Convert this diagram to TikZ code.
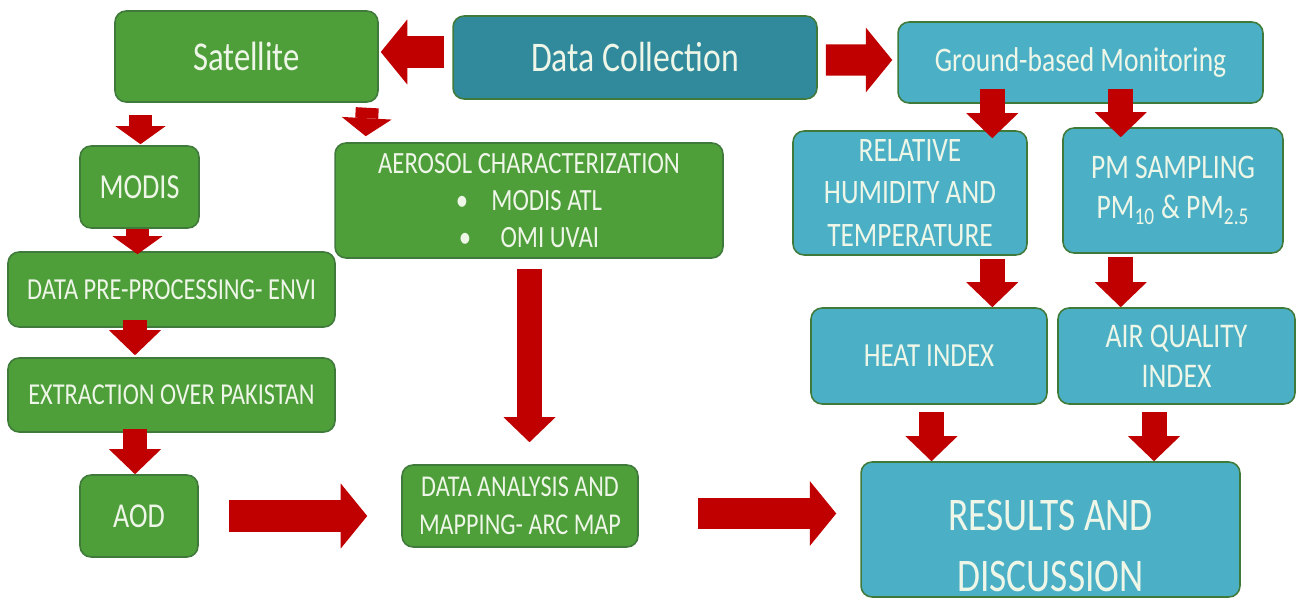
\documentclass[tikz,border=0pt]{standalone}
\usepackage{fontspec}
\setmainfont{Carlito}[FakeStretch=0.8]
\usetikzlibrary{arrows.meta,calc}
\definecolor{boxgreen}{HTML}{4E9E3A}
\definecolor{boxteal}{HTML}{318A9C}
\definecolor{boxcyan}{HTML}{4BB0C6}
\definecolor{boxline}{HTML}{3F7A3A}
\definecolor{arrowred}{HTML}{C00000}
\definecolor{boxtext}{HTML}{EEF6E8}

\begin{document}
\begin{tikzpicture}[x=0.02cm,y=-0.02cm,
  box/.style={draw=boxline,line width=0.9pt,rounded corners=0.22cm,
              text=boxtext,align=center,inner sep=0pt},
  gbox/.style={box,fill=boxgreen},
  cbox/.style={box,fill=boxcyan},
  blkS/.style={draw=arrowred,line width=0.46cm,
               -{Triangle[length=0.36cm,width=1.0cm,line width=0pt]}},
  blkM/.style={draw=arrowred,line width=0.5cm,
               -{Triangle[length=0.5cm,width=1.04cm,line width=0pt]}},
  blkL/.style={draw=arrowred,line width=0.63cm,
               -{Triangle[length=0.53cm,width=1.3cm,line width=0pt]}}]
  \useasboundingbox (0,0) rectangle (1298,601);
  % top row
  \node[gbox,minimum width=5.26cm,minimum height=1.82cm,
        font=\fontsize{23.3}{28}\selectfont] (sat) at (246.5,56.5) {Satellite};
  \node[box,fill=boxteal,minimum width=7.28cm,minimum height=1.66cm,
        font=\fontsize{24}{29}\selectfont] (dc) at (635,57.5) {Data Collection};
  \node[cbox,minimum width=7.30cm,minimum height=1.62cm,
        font=\fontsize{19.6}{23}\selectfont] (gbm) at (1080.5,62.5)
       {Ground-based Monitoring};
  % satellite branch
  \node[gbox,minimum width=2.38cm,minimum height=1.64cm,
        font=\fontsize{20}{24}\selectfont] (modis) at (139.5,187) {MODIS};
  \node[gbox,minimum width=7.76cm,minimum height=2.30cm,
        font=\fontsize{17.6}{21}\selectfont] (aer) at (529,200.5)
       {AEROSOL CHARACTERIZATION\\
        \textbullet\hspace{0.75em}MODIS ATL\\
        \textbullet\hspace{0.95em}OMI UVAI};
  \node[gbox,minimum width=6.54cm,minimum height=1.50cm,
        font=\fontsize{17.4}{21}\selectfont] (pre) at (171.5,289.5)
       {DATA PRE-PROCESSING- ENVI};
  \node[gbox,minimum width=6.54cm,minimum height=1.48cm,
        font=\fontsize{17.3}{21}\selectfont] (ext) at (171.5,395)
       {EXTRACTION OVER PAKISTAN};
  \node[gbox,minimum width=2.36cm,minimum height=1.64cm,
        font=\fontsize{19.9}{24}\selectfont] (aod) at (139,516) {AOD};
  \node[gbox,minimum width=4.72cm,minimum height=1.64cm,
        font=\fontsize{17.2}{21.5}\selectfont] (da) at (520,506)
       {DATA ANALYSIS AND\\MAPPING- ARC MAP};
  % ground branch
  \node[cbox,minimum width=4.68cm,minimum height=2.48cm,
        font=\fontsize{19.5}{24}\selectfont] (rh) at (910,193)
       {RELATIVE\\HUMIDITY AND\\TEMPERATURE};
  \node[cbox,minimum width=4.40cm,minimum height=2.50cm,
        font=\fontsize{19.6}{22.7}\selectfont] (pm) at (1173,190.5)
       {PM SAMPLING\\PM\textsubscript{10} \& PM\textsubscript{2.5}};
  \node[cbox,minimum width=4.72cm,minimum height=1.92cm,
        font=\fontsize{19.2}{23}\selectfont] (hi) at (929,356) {HEAT INDEX};
  \node[cbox,minimum width=4.74cm,minimum height=1.92cm,
        font=\fontsize{19.7}{22.7}\selectfont] (aq) at (1176.5,356)
       {AIR QUALITY\\INDEX};
  \node[cbox,minimum width=7.58cm,minimum height=2.70cm,
        font=\fontsize{26.6}{35}\selectfont] (res) at (1050.5,529.5)
       {\rule{0pt}{1.26cm}RESULTS AND\\DISCUSSION};
  % arrows
  \draw[blkL] ($(dc.west)+(-8,-5.5)$) -- ($(sat.east)+(2,-4.5)$);
  \draw[blkL] ($(dc.east)+(8,2.5)$) -- ($(gbm.west)+(-5,-2.5)$);
  \draw[blkS] ($(sat.south -| modis.north)+(1,12)$) -- ($(modis.north)+(1,-1)$);
  \draw[blkS] ($(sat.south east)+(-11.5,5)$) -- ($(aer.north west)+(31.5,-6)$);
  \draw[blkS] ($(modis.south)+(-2,0)$) -- ($(modis.south |- pre.north)+(-2,3)$);
  \draw[blkM] ($(pre.south)+(-36.5,-8)$) -- ($(ext.north)+(-36.5,-2)$);
  \draw[blkM] ($(ext.south)+(-36.5,-4)$) -- ($(ext.south |- aod.north)+(-36.5,0)$);
  \draw[blkL] ($(aod.east)+(30,0)$) -- ($(aod.east -| da.west)+(-34,0)$);
  \draw[blkM] ($(aer.south)+(0.5,10)$) -- ($(aer.south |- da.north)+(0.5,-22)$);
  \draw[blkL] ($(da.east)+(59,7.5)$) -- ($(da.east -| res.west)+(-24,7.5)$);
  \draw[blkM] ($(rh.north east |- gbm.south)+(-35.5,-15)$) -- ($(rh.north east)+(-35.5,8)$);
  \draw[blkM] ($(pm.north west |- gbm.south)+(58.5,-15)$) -- ($(pm.north west)+(58.5,10)$);
  \draw[blkM] ($(rh.south east)+(-35.5,3)$) -- ($(rh.south east |- hi.north)+(-35.5,0)$);
  \draw[blkM] ($(pm.south west)+(58.5,3)$) -- ($(pm.south west |- aq.north)+(58.5,0)$);
  \draw[blkM] ($(hi.south)+(2.5,7)$) -- ($(hi.south |- res.north)+(2.5,0)$);
  \draw[blkM] ($(aq.south)+(-22.5,7)$) -- ($(aq.south |- res.north)+(-22.5,0)$);
\end{tikzpicture}
\end{document}
